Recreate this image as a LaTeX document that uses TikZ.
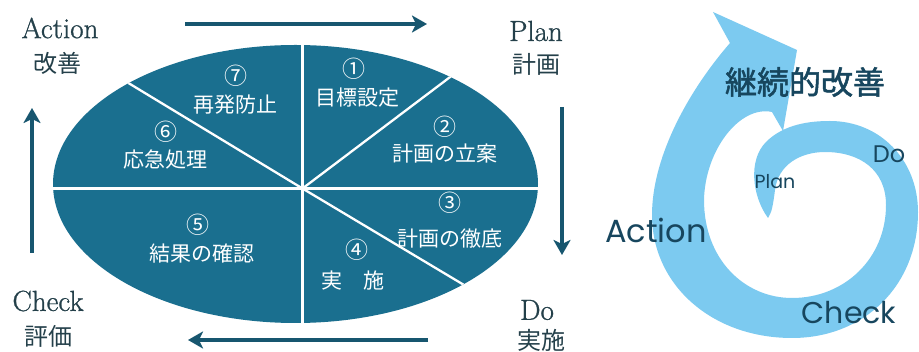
\documentclass[tikz,border=0pt]{standalone}
\usepackage{fontspec}
\newfontfamily\jpfont{Noto Sans CJK JP}
\newfontfamily\jpmed{Noto Sans CJK JP}[FakeBold=1.6]
\newfontfamily\lmheavy{Latin Modern Roman}[FakeBold=0.9]
\newfontfamily\popfont{Poppins}
\usetikzlibrary{arrows.meta}
\definecolor{ellblue}{HTML}{1A6F8F}
\definecolor{arrowblue}{HTML}{17566F}
\definecolor{labeldark}{HTML}{24404A}
\definecolor{spiralblue}{HTML}{7CCAF0}
\definecolor{spiraltext}{HTML}{17465E}
\begin{document}
\begin{tikzpicture}[x=1pt,y=-1pt,
  seg/.style={white, line width=2.3pt},
  inlabel/.style={text=white, font=\jpfont\fontsize{21}{21}\selectfont, inner sep=0pt},
  innum/.style={text=white, font=\jpfont\fontsize{23}{23}\selectfont, inner sep=0pt},
  enlabel/.style={text=labeldark, font=\lmheavy\fontsize{29}{29}\selectfont, inner sep=0pt},
  jplabel/.style={text=labeldark, font=\jpfont\fontsize{24}{24}\selectfont, inner sep=0pt},
  cyclearrow/.style={arrowblue, line width=4pt, -{Stealth[length=15pt,width=17pt,inset=4pt]}},
  sptext/.style={text=spiraltext, font=\popfont\fontsize{#1}{#1}\selectfont, inner sep=0pt},
  spjp/.style={text=spiraltext, font=\jpmed\fontsize{32}{32}\selectfont, inner sep=0pt},
]
\useasboundingbox[fill=white] (0,0) rectangle (919,352);

% ---------- left: PDCA ellipse ----------
\fill[ellblue] (295.5,184) ellipse [x radius=242.5pt, y radius=139pt];
\begin{scope}
  \clip (295.5,184) ellipse [x radius=242.5pt, y radius=139pt];
  \coordinate (O) at (302.5,188.5);
  \draw[seg] (302.5,30) -- (302.5,340);
  \draw[seg] (40,188.5) -- (560,188.5);
  \draw[seg] (O) -- ++(-255,-154.5);
  \draw[seg] (O) -- ++(214.5,-162);
  \draw[seg] (O) -- ++(238.5,142.5);
\end{scope}

\node[innum]   (n7) at (236,76)  {⑦};
\node[inlabel] (t7) at (235,105) {再発防止};
\node[innum]   (n6) at (166,132) {⑥};
\node[inlabel] (t6) at (165,160) {応急処理};
\node[innum]   (n1) at (354,69)  {①};
\node[inlabel] (t1) at (357,98)  {目標設定};
\node[innum]   (n2) at (445,127) {②};
\node[inlabel] (t2) at (445,154) {計画の立案};
\node[innum]   (n3) at (450,203) {③};
\node[inlabel] (t3) at (450,239) {計画の徹底};
\node[innum]   (n4) at (357,250) {④};
\node[inlabel] (t4) at (353,281) {実　施};
\node[innum]   (n5) at (198,225) {⑤};
\node[inlabel] (t5) at (202,254) {結果の確認};

% ---------- corner labels ----------
\node[enlabel] (actL)   at (60,28)   {Action};
\node[jplabel] (actJ)   at (58,63)   {改善};
\node[enlabel] (planL)  at (536,31)  {Plan};
\node[jplabel] (planJ)  at (536,64)  {計画};
\node[enlabel] (checkL) at (48,301)  {Check};
\node[jplabel] (checkJ) at (48,336)  {評価};
\node[enlabel] (doL)    at (537,310) {Do};
\node[jplabel] (doJ)    at (541,340) {実施};

% ---------- cycle arrows ----------
\coordinate (tA) at (185,24);  \coordinate (tB) at (427,24);
\coordinate (rA) at (562,107); \coordinate (rB) at (562,255);
\coordinate (bA) at (428,340); \coordinate (bB) at (188,340);
\coordinate (lA) at (32,253);  \coordinate (lB) at (32,108);
\draw[cyclearrow] (tA) -- (tB);
\draw[cyclearrow] (rA) -- (rB);
\draw[cyclearrow] (bA) -- (bB);
\draw[cyclearrow] (lA) -- (lB);

% ---------- right: spiral ----------
\fill[spiralblue]
  (768,218) .. controls (752,196) and (748,160) .. (766,142)
  .. controls (784,124) and (810,121) .. (830,121)
  .. controls (880,121) and (918,160) .. (918,212)
  .. controls (918,286) and (864,338) .. (792,338)
  .. controls (712,338) and (652,285) .. (652,215)
  .. controls (652,160) and (685,95) .. (730,43)
  -- (713,12) -- (797,50) -- (783,131) -- (772,112)
  .. controls (740,105) and (705,150) .. (704,200)
  .. controls (704,260) and (745,298) .. (792,298)
  .. controls (845,298) and (886,258) .. (886,205)
  .. controls (886,170) and (860,152) .. (825,152)
  .. controls (800,152) and (778,165) .. (775,190)
  .. controls (773,205) and (772,212) .. (768,218)
  -- cycle;

\node[spjp]       (kz)  at (805,82)  {継続的改善};
\node[sptext=32]  (spA) at (656,230) {Action};
\node[sptext=30]  (spC) at (849,313) {Check};
\node[sptext=24]  (spD) at (889,154) {Do};
\node[sptext=19]  (spP) at (775,182) {Plan};
\end{tikzpicture}
\end{document}
